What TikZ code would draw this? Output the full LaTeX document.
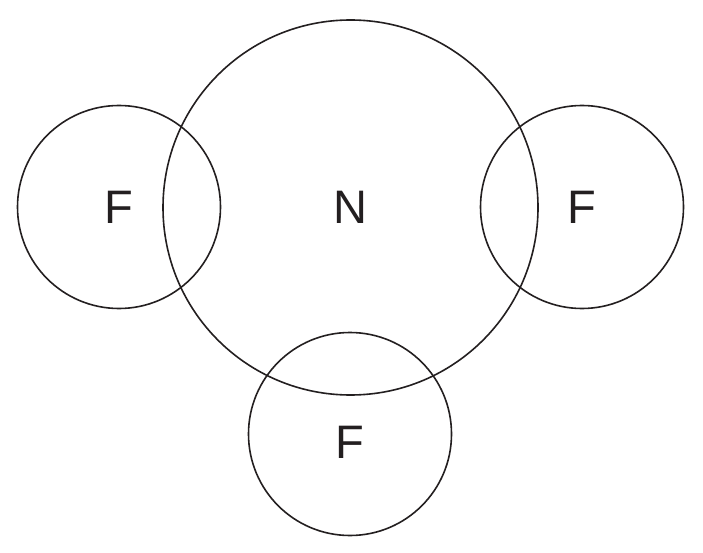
\documentclass[tikz,border=0pt]{standalone}
\usepackage{fontspec}
\setmainfont{Liberation Sans}
\usetikzlibrary{positioning}
\definecolor{inkdark}{HTML}{231F20}

\begin{document}
\begin{tikzpicture}[
  x=1pt,y=-1pt,
  atom/.style={draw=inkdark,text=inkdark,line width=1.6pt,circle,inner sep=0pt,font=\fontsize{47}{56}\selectfont},
  big/.style={atom,minimum size=375pt},
  small/.style={atom,minimum size=203pt}
]
\useasboundingbox (0,0) rectangle (703,553);
\node[big] (n) at (350.5,207.5) {N};
\node[small] (f1) at (119,207) {F};
\node[small] (f2) at (582,207) {F};
\node[small,label={[text=inkdark,font=\fontsize{47}{56}\selectfont,yshift=-8pt]center:F}] (f3) at (350,434) {};
\end{tikzpicture}
\end{document}
